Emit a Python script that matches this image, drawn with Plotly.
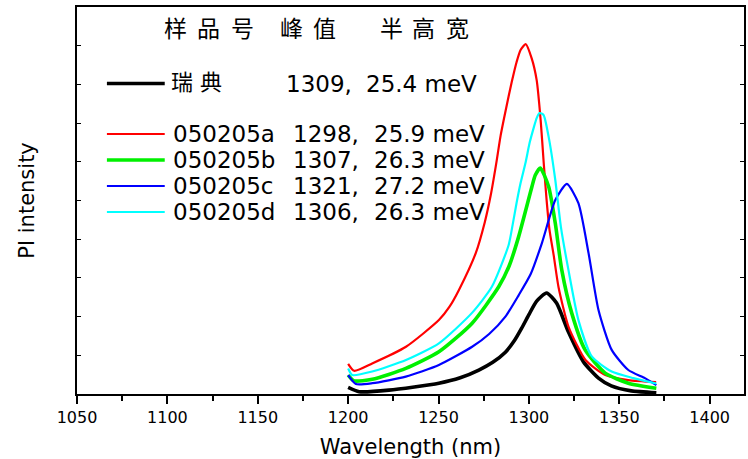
import plotly.graph_objects as go

# ---------------- data ----------------
sample_names = ["瑞典", "050205a", "050205b", "050205c", "050205d"]
peak_nm = ["1309", "1298", "1307", "1321", "1306"]
fwhm_mev = ["25.4", "25.9", "26.3", "27.2", "26.3"]
header = ["样品号", "峰值", "半高宽"]

wl_ref = [1200, 1206.1, 1222.6, 1250.2, 1262.0, 1272.3, 1280.0, 1287.0, 1292.0, 1296.0,
          1300.0, 1304.3, 1309.8, 1315.3, 1321.9, 1330.2, 1338.5, 1345.6, 1356.7, 1370.5]
int_ref = [0.17, 0.06, 0.10, 0.28, 0.42, 0.62, 0.82, 1.08, 1.38, 1.70,
           2.05, 2.40, 2.61, 2.35, 1.60, 0.83, 0.41, 0.21, 0.08, 0.03]

wl_a = [1200, 1203.3, 1213.3, 1232.0, 1250.2, 1256.0, 1261.3, 1270.6, 1275.6, 1278.9, 1281.8,
        1284.4, 1287.2, 1290.5, 1293.2, 1295.4, 1298.2, 1301.5, 1304.3, 1306.5, 1308.2,
        1309.8, 1311.4, 1313.7, 1316.4, 1322.0, 1331.3, 1342.3, 1355.0, 1370.4]
int_a = [0.78, 0.60, 0.79, 1.22, 1.91, 2.25, 2.69, 3.64, 4.44, 5.14, 5.92,
         6.69, 7.34, 8.06, 8.58, 8.89, 9.04, 8.68, 8.11, 7.08, 5.97,
         5.01, 4.24, 3.59, 2.76, 1.73, 0.88, 0.49, 0.36, 0.31]

wl_b = [1200, 1203.3, 1213.4, 1231.9, 1250.2, 1268.6, 1283.3, 1289.0, 1294.3, 1301.7, 1303.5,
        1306.3, 1310.9, 1314.6, 1318.2, 1323.7, 1331.1, 1342.2, 1355.0, 1370.5]
int_b = [0.49, 0.34, 0.38, 0.66, 1.09, 1.83, 2.77, 3.30, 4.06, 5.36, 5.65,
         5.84, 5.36, 4.41, 3.20, 2.09, 1.14, 0.54, 0.28, 0.15]

wl_c = [1200, 1204.3, 1213.4, 1231.9, 1250.2, 1268.6, 1278.0, 1287.0, 1294.3, 1301.0, 1307.2,
        1314.6, 1321.0, 1327.4, 1333.0, 1338.5, 1345.8, 1355.0, 1364.2, 1370.5]
int_c = [0.49, 0.26, 0.28, 0.45, 0.75, 1.22, 1.55, 2.00, 2.55, 3.10, 3.90,
         5.01, 5.43, 4.93, 3.64, 2.17, 1.14, 0.62, 0.41, 0.23]

wl_d = [1200, 1202.3, 1213.3, 1232.0, 1250.2, 1268.4, 1279.5, 1288.8, 1291.0, 1293.2,
        1295.4, 1298.2, 1300.4, 1302.6, 1304.3, 1305.9, 1308.1, 1310.9, 1314.6, 1317.7,
        1321.9, 1327.4, 1334.8, 1345.8, 1357.8, 1370.5]
int_d = [0.66, 0.49, 0.58, 0.88, 1.31, 2.09, 2.77, 3.85, 4.37, 4.94,
         5.45, 5.99, 6.49, 6.87, 7.13, 7.26, 7.21, 6.65, 5.53, 4.32,
         3.20, 1.91, 0.97, 0.58, 0.41, 0.27]

x_ticks = [1050, 1100, 1150, 1200, 1250, 1300, 1350, 1400]

# ---------------- styling ----------------
colors = ["#000000", "#FF0000", "#00F000", "#0000FF", "#00FFFF"]
widths = [3.6, 2.2, 3.6, 2.2, 2.2]
series = [(wl_ref, int_ref), (wl_a, int_a), (wl_b, int_b), (wl_c, int_c), (wl_d, int_d)]

W, H = 748, 459
ML, MR, MT, MB = 77, 2, 7, 65
PW, PH = W - ML - MR, H - MT - MB
FONT = "DejaVu Sans"
CJK = "Noto Sans CJK SC"


def fx(x):
    return (x - ML) / PW


def fy(y):
    return (H - MB - y) / PH


fig = go.Figure()
for (xs, ys), c, w, nm in zip(series, colors, widths, sample_names):
    fig.add_trace(go.Scatter(x=xs, y=ys, mode="lines", name=nm, showlegend=False,
                             line=dict(color=c, width=w, shape="spline", smoothing=0.6)))

annotations = []
shapes = []

# header row
header_left = [[164, 197, 231], [280, 313], [380, 413, 447]]
for grp, lefts in zip(header, header_left):
    for ch, lx in zip(grp, lefts):
        annotations.append(dict(text=ch, x=fx(lx + 12), y=fy(27), xref="paper", yref="paper",
                                xanchor="center", yanchor="middle", showarrow=False,
                                font=dict(family=CJK, size=23, color="black")))

# legend rows
row_y = [83.5, 134, 160, 186, 212]
for i, (nm, pk, fw) in enumerate(zip(sample_names, peak_nm, fwhm_mev)):
    yy = fy(row_y[i])
    shapes.append(dict(type="line", xref="paper", yref="paper", x0=fx(107), x1=fx(165),
                       y0=yy, y1=yy, line=dict(color=colors[i], width=widths[i])))
    if i == 0:
        for ch, lx in zip(nm, [171, 200]):
            annotations.append(dict(text=ch, x=fx(lx + 11), y=fy(row_y[i] - 4), xref="paper",
                                    yref="paper", xanchor="center", yanchor="middle",
                                    showarrow=False,
                                    font=dict(family=CJK, size=22, color="black")))
        xs_txt = [285, 365]
    else:
        annotations.append(dict(text=nm, x=fx(171), y=yy, xref="paper", yref="paper",
                                xanchor="left", yanchor="middle", showarrow=False,
                                font=dict(family=FONT, size=23, color="black")))
        xs_txt = [292, 373]
    annotations.append(dict(text=pk + ",", x=fx(xs_txt[0]), y=yy, xref="paper", yref="paper",
                            xanchor="left", yanchor="middle", showarrow=False,
                            font=dict(family=FONT, size=23, color="black")))
    annotations.append(dict(text=fw + " meV", x=fx(xs_txt[1]), y=yy, xref="paper", yref="paper",
                            xanchor="left", yanchor="middle", showarrow=False,
                            font=dict(family=FONT, size=23, color="black")))

fig.update_layout(
    width=W, height=H,
    margin=dict(l=ML, r=MR, t=MT, b=MB, pad=0),
    paper_bgcolor="white", plot_bgcolor="white",
    annotations=annotations, shapes=shapes,
    font=dict(family=FONT, color="black"),
)
fig.update_xaxes(
    range=[1050, 1419], tickvals=x_ticks, ticktext=[str(v) for v in x_ticks],
    ticks="outside", ticklen=8, tickwidth=1.5, tickcolor="black",
    minor=dict(dtick=25, tick0=1050, ticks="outside", ticklen=5, tickwidth=1.5, tickcolor="black"),
    showline=True, linewidth=2, linecolor="black", mirror=True,
    showgrid=False, zeroline=False,
    tickfont=dict(family=FONT, size=16, color="black"),
    title=dict(text="Wavelength (nm)", font=dict(family=FONT, size=21, color="black"), standoff=14),
)
fig.update_yaxes(
    range=[0, 10], dtick=1, tick0=0, ticks="inside", ticklen=4, tickwidth=1, tickcolor="black",
    showticklabels=False, showline=True, linewidth=2, linecolor="black", mirror="ticks",
    showgrid=False, zeroline=False,
    title=dict(text="PI intensity", font=dict(family=FONT, size=21, color="black"), standoff=35),
)

fig.write_html("out.html")
